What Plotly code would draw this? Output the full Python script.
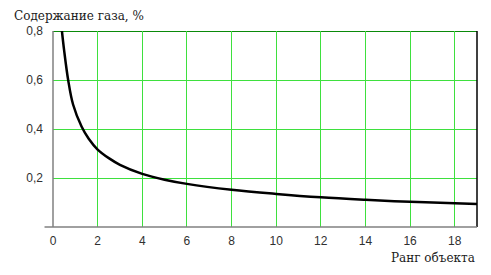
import plotly.graph_objects as go

# Data
rank = [0.4, 0.5, 0.68, 0.9, 1.28, 1.6, 2, 2.5, 3, 4, 5, 6, 8, 10, 12, 14, 16, 18, 19]
gas = [0.8, 0.72, 0.6, 0.5, 0.41, 0.36, 0.316, 0.281, 0.254, 0.217, 0.193, 0.176,
       0.152, 0.135, 0.121, 0.111, 0.103, 0.097, 0.094]

x_ticks = [0, 2, 4, 6, 8, 10, 12, 14, 16, 18]
y_ticks = [0.2, 0.4, 0.6, 0.8]
y_tick_text = ["0,2", "0,4", "0,6", "0,8"]

fig = go.Figure()
fig.add_trace(go.Scatter(x=rank, y=gas, mode="lines",
                         line=dict(color="black", width=2.5, shape="spline", smoothing=1.0),
                         hoverinfo="skip", showlegend=False))

grid_col = "#3ee03e"
fig.update_xaxes(range=[0, 19], tickvals=x_ticks, showgrid=True, gridcolor=grid_col, gridwidth=1,
                 zeroline=False, showline=False, ticks="", ticklabelstandoff=5, automargin=False,
                 tickfont=dict(family="Liberation Sans, Arial", size=12, color="#303030"))
fig.update_yaxes(range=[0, 0.8], tickvals=y_ticks, ticktext=y_tick_text, showgrid=True,
                 gridcolor=grid_col, gridwidth=1, zeroline=False, showline=False, ticks="",
                 ticklabelstandoff=9, automargin=False,
                 tickfont=dict(family="Liberation Sans, Arial", size=12, color="#303030"))

# frame lines
fig.add_shape(type="line", xref="x", yref="y", x0=0, x1=19, y0=0.8, y1=0.8,
              line=dict(color="#0a8a0a", width=2), layer="below")
fig.add_shape(type="line", xref="paper", yref="paper", x0=1, x1=1, y0=0, y1=1,
              line=dict(color="black", width=1.5), layer="above")
fig.add_shape(type="line", xref="paper", yref="paper", x0=0, x1=0, y0=0, y1=1,
              line=dict(color="#808080", width=1.5), layer="above")
fig.add_shape(type="line", xref="paper", yref="paper", x0=-0.02, x1=1, y0=0, y1=0,
              line=dict(color="#808080", width=1.5), layer="above")

fig.add_annotation(text="Содержание газа, %", xref="paper", yref="paper",
                   x=-41 / 424, y=1, xanchor="left", yanchor="bottom", yshift=6, showarrow=False,
                   font=dict(family="DejaVu Serif", size=12, color="#202020"))
fig.add_annotation(text="Ранг объекта", xref="paper", yref="paper",
                   x=1, y=0, xanchor="right", yanchor="top", yshift=-22, showarrow=False,
                   font=dict(family="DejaVu Serif", size=12, color="#202020"))

# page body has an 8px default margin, so the figure is offset by 8px
fig.update_layout(width=483, height=267, margin=dict(l=45, r=14, t=23, b=48),
                  paper_bgcolor="white", plot_bgcolor="white")
fig.write_html("out.html")
